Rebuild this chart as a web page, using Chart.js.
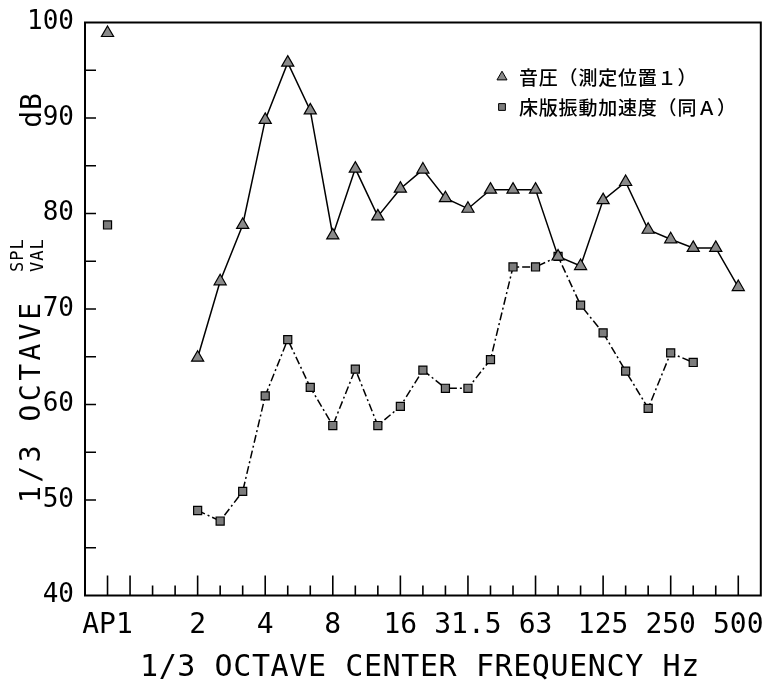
<!DOCTYPE html>
<html><head><meta charset="utf-8">
<script src="https://cdn.jsdelivr.net/npm/chart.js@4/dist/chart.umd.min.js"></script>
<style>html,body{margin:0;padding:0;background:#fff}#wrap{width:769px;height:683px}</style>
</head><body><div id="wrap"><canvas id="c" width="769" height="683"></canvas></div>
<script>
// ---- data ----
const categories = ['AP1','1','1.25','1.6','2','2.5','3.15','4','5','6.3','8','10','12.5','16','20','25','31.5','40','50','63','80','100','125','160','200','250','315','400','500'];
const tickLabels = ['AP1','2','4','8','16','31.5','63','125','250','500'];
const majorTicks = ['AP1','1','2','4','8','16','31.5','63','125','250','500'];
const splValues = [98.9,null,null,null,64.9,72.9,78.8,89.8,95.8,90.8,77.7,84.7,79.7,82.6,84.6,81.6,80.5,82.5,82.5,82.5,75.5,74.5,81.4,83.3,78.3,77.3,76.4,76.4,72.3];
const valValues = [78.8,null,null,null,48.9,47.8,50.9,60.9,66.8,61.8,57.8,63.7,57.8,59.8,63.6,61.7,61.7,64.7,74.4,74.4,75.5,70.4,67.5,63.5,59.6,65.4,64.4,null,null];
const seriesNames = ['音圧（測定位置１）','床版振動加速度（同Ａ）'];
const yMin = 40, yMax = 100, yStep = 10, yMinorStep = 5;
const xTitle = '1/3 OCTAVE CENTER FREQUENCY Hz';
const yTitleMain = '1/3 OCTAVE';
const yTitleUpper = 'SPL';
const yTitleLower = 'VAL';
const yTitleUnit = 'dB';

const MONO = '"DejaVu Sans Mono", "Liberation Mono", monospace';
const CJK = '"Noto Sans CJK JP", "Noto Sans CJK SC", sans-serif';

const toPoints = arr => arr.map((v, i) => ({x: i, y: v}));

function rotatedText(ctx, text, x, y, font, spacing, align) {
  ctx.save();
  ctx.font = font;
  ctx.letterSpacing = spacing;
  ctx.textAlign = align;
  ctx.textBaseline = 'alphabetic';
  ctx.translate(x, y);
  ctx.rotate(-Math.PI / 2);
  ctx.fillText(text, 0, 0);
  ctx.restore();
}

const framePlugin = {
  id: 'frame',
  beforeDatasetsDraw(chart) {
    const {ctx, chartArea: a, scales: {x, y}} = chart;
    ctx.save();
    ctx.strokeStyle = '#000';
    ctx.lineWidth = 2;
    ctx.strokeRect(a.left, a.top, a.right - a.left, a.bottom - a.top);
    ctx.lineWidth = 1.6;
    ctx.beginPath();
    categories.forEach((c, i) => {
      const px = x.getPixelForValue(i);
      const len = majorTicks.includes(c) ? 20 : 10;
      ctx.moveTo(px, a.bottom);
      ctx.lineTo(px, a.bottom - len);
    });
    for (let v = yMin + yMinorStep; v < yMax; v += yMinorStep) {
      const py = y.getPixelForValue(v);
      ctx.moveTo(a.left, py);
      ctx.lineTo(a.left + 11, py);
    }
    ctx.stroke();
    ctx.restore();
  },
  afterDraw(chart) {
    const {ctx, chartArea: a} = chart;
    ctx.save();
    ctx.fillStyle = '#000';
    // x title
    ctx.font = '30px ' + MONO;
    ctx.letterSpacing = '0.6px';
    ctx.textAlign = 'center';
    ctx.textBaseline = 'alphabetic';
    ctx.fillText(xTitle, (a.left + a.right) / 2 - 3, 676);
    // y title (rotated)
    rotatedText(ctx, yTitleMain, 40, 503, '28px ' + MONO, '3.5px', 'left');
    rotatedText(ctx, yTitleUpper, 23, 272, '17px ' + MONO, '1px', 'left');
    rotatedText(ctx, yTitleLower, 43, 272, '17px ' + MONO, '1px', 'left');
    rotatedText(ctx, yTitleUnit, 41, 110, '28px ' + MONO, '1px', 'center');
    // legend
    const rows = [77, 107];
    chart.data.datasets.forEach((ds, i) => {
      const cy = rows[i];
      const mx = 502;
      ctx.save();
      ctx.fillStyle = ds.pointBackgroundColor; ctx.strokeStyle = '#000'; ctx.lineWidth = 1;
      ctx.beginPath();
      if (ds.pointStyle === 'triangle') {
        const r = 5.8;
        ctx.moveTo(mx, cy - r); ctx.lineTo(mx + r * 0.866, cy + r / 2); ctx.lineTo(mx - r * 0.866, cy + r / 2); ctx.closePath();
      } else {
        ctx.rect(mx - 3.4, cy - 3.4, 6.8, 6.8);
      }
      ctx.fill(); ctx.stroke();
      ctx.restore();
      ctx.font = '500 19px ' + CJK;
      ctx.letterSpacing = '0.8px';
      ctx.textAlign = 'left';
      ctx.textBaseline = 'middle';
      ctx.fillStyle = '#000';
      ctx.fillText(ds.label, 519, cy + 1);
    });
    ctx.restore();
  }
};

new Chart(document.getElementById('c'), {
  type: 'line',
  data: {
    datasets: [
      {
        label: seriesNames[0],
        data: toPoints(splValues),
        borderColor: '#000', borderWidth: 1.5,
        pointStyle: 'triangle', pointRadius: 7, pointHoverRadius: 7,
        pointBackgroundColor: '#8a8a8a', pointBorderColor: '#000', pointBorderWidth: 1.2,
        spanGaps: false, tension: 0, fill: false
      },
      {
        label: seriesNames[1],
        data: toPoints(valValues),
        borderColor: '#000', borderWidth: 1.5, borderDash: [8, 3, 2, 3],
        pointStyle: 'rect', pointRadius: 5.7, pointHoverRadius: 5.7,
        pointBackgroundColor: '#7c7c7c', pointBorderColor: '#000', pointBorderWidth: 1.2,
        spanGaps: false, tension: 0, fill: false
      }
    ]
  },
  options: {
    responsive: false,
    devicePixelRatio: 1,
    animation: false,
    clip: false,
    layout: {padding: {top: 22.5, right: 7, left: 0, bottom: 0}},
    plugins: {legend: {display: false}, tooltip: {enabled: false}},
    scales: {
      x: {
        type: 'linear', min: -1, max: categories.length,
        afterFit: s => { s.height = 87.5; },
        grid: {display: false}, border: {display: false},
        ticks: {
          stepSize: 1, autoSkip: false, maxRotation: 0, minRotation: 0, maxTicksLimit: 100,
          padding: 5, color: '#000', font: {family: MONO, size: 28},
          callback: v => {
            const c = categories[v];
            return (Number.isInteger(v) && tickLabels.includes(c)) ? c : '';
          }
        }
      },
      y: {
        type: 'linear', min: yMin, max: yMax,
        afterFit: s => { s.width = 85; },
        grid: {display: false}, border: {display: false},
        ticks: {
          stepSize: yStep, padding: 3, color: '#000', font: {family: MONO, size: 26}
        }
      }
    }
  },
  plugins: [framePlugin]
});
</script></body></html>
